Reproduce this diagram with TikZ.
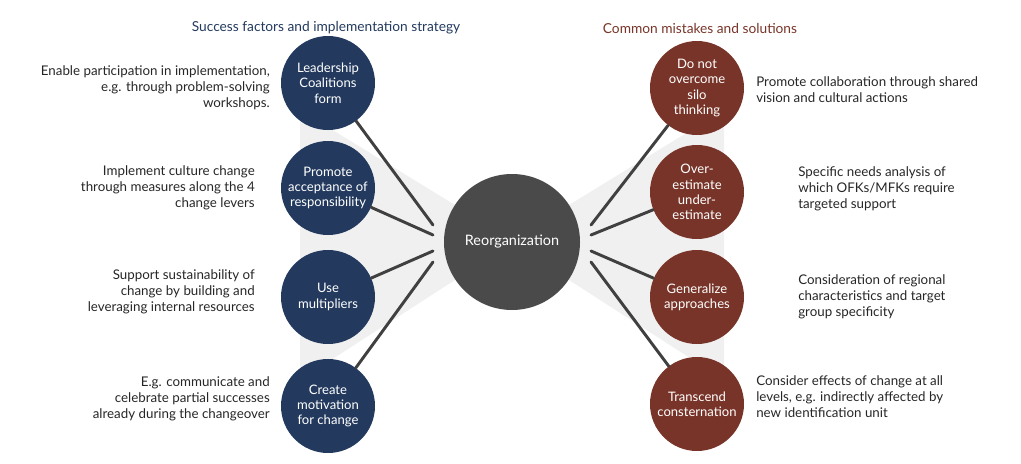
\documentclass[tikz,border=0pt]{standalone}
\usepackage{fontspec}
\setmainfont{Lato}
\begin{document}
\begin{tikzpicture}[x=0.75pt,y=-0.75pt,
  lc/.style={circle,fill=navyc,minimum size=70.5pt,inner sep=0pt,text=white,align=center,font=\fontsize{9.8}{11.5}\selectfont},
  rc/.style={lc,fill=maroonc},
  lt/.style={align=right,anchor=east,inner sep=0pt,font=\fontsize{10}{12}\selectfont,text=black!85},
  rt/.style={align=left,anchor=west,inner sep=0pt,font=\fontsize{10}{12}\selectfont,text=black!85},
  con/.style={draw=black!75,line width=2.2pt,line cap=round}]
\definecolor{navyc}{HTML}{233A5E}
\definecolor{maroonc}{HTML}{783428}
\definecolor{centc}{HTML}{4A4A4A}
\useasboundingbox (0,0) rectangle (1021,464);
\fill[black!6] (300,110) -- (455,205) -- (455,280) -- (300,380) -- cycle;
\fill[black!6] (724,110) -- (569,205) -- (569,280) -- (724,380) -- cycle;
\node[circle,fill=centc,minimum size=102pt,inner sep=0pt,text=white,font=\fontsize{10.8}{12}\selectfont] (c) at (512,242) {Reorganization};
\node[font=\fontsize{10.3}{12}\selectfont,text=navyc] (tl) at (326,28) {Success factors and implementation strategy};
\node[font=\fontsize{10.3}{12}\selectfont,text=maroonc] (tr) at (700,28) {Common mistakes and solutions};
\node[lc] (l1) at (328,83) {Leadership\\Coalitions\\form};
\node[lc] (l2) at (328,188) {Promote\\acceptance of\\responsibility};
\node[lc] (l3) at (328,297) {Use\\multipliers};
\node[lc] (l4) at (328,406) {Create\\motivation\\for change};
\node[rc] (r1) at (697,88) {Do not\\overcome\\silo\\thinking};
\node[rc] (r2) at (697,192) {Over-\\estimate\\under-\\estimate};
\node[rc] (r3) at (697,297) {Generalize\\approaches};
\node[rc] (r4) at (697,404) {Transcend\\consternation};
\coordinate (e1) at (433,225); \coordinate (e2) at (433,235);
\coordinate (e3) at (433,251); \coordinate (e4) at (433,262);
\coordinate (f1) at (591,225); \coordinate (f2) at (591,235);
\coordinate (f3) at (591,251); \coordinate (f4) at (591,262);
\draw[con] (l1) -- (e1); \draw[con] (l2) -- (e2);
\draw[con] (l3) -- (e3); \draw[con] (l4) -- (e4);
\draw[con] (r1) -- (f1); \draw[con] (r2) -- (f2);
\draw[con] (r3) -- (f3); \draw[con] (r4) -- (f4);
\node[lt] (a1) at (270,88) {Enable participation in implementation,\\e.g. through problem-solving\\workshops.};
\node[lt] (a2) at (255,188) {Implement culture change\\through measures along the 4\\change levers};
\node[lt] (a3) at (255,292) {Support sustainability of\\change by building and\\leveraging internal resources};
\node[lt] (a4) at (270,399) {E.g. communicate and\\celebrate partial successes\\already during the changeover};
\node[rt] (b1) at (756,90) {Promote collaboration through shared\\vision and cultural actions};
\node[rt] (b2) at (798,189) {Specific needs analysis of\\which OFKs/MFKs require\\targeted support};
\node[rt] (b3) at (798,297) {Consideration of regional\\characteristics and target\\group specificity};
\node[rt] (b4) at (756,397) {Consider effects of change at all\\levels, e.g. indirectly affected by\\new identification unit};
\end{tikzpicture}
\end{document}
